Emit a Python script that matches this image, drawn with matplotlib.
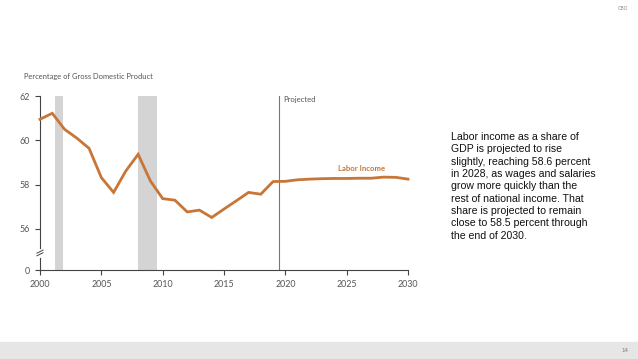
import matplotlib.pyplot as plt
import numpy as np

# labor income as share of GDP
years = list(range(2000, 2031))
labor_share = [60.95, 61.22, 60.5, 60.1, 59.64, 58.32, 57.65, 58.62, 59.37, 58.17,
               57.37, 57.3, 56.77, 56.85, 56.52, 56.9, 57.27, 57.65, 57.57, 58.14,
               58.15, 58.22, 58.25, 58.27, 58.28, 58.28, 58.29, 58.29, 58.34, 58.33,
               58.25]
recessions = [(2001.2, 2001.9), (2007.95, 2009.5)]
projected_start = 2019.5
ytick_vals = [62, 60, 58, 56]
xtick_vals = [2000, 2005, 2010, 2015, 2020, 2025, 2030]

# the axis is broken between 56 and 0; 0 sits a bit below 56
zero_pos = 54.15
orange = '#c87637'
grey_txt = '#555555'

fig = plt.figure(figsize=(6.38, 3.59), dpi=100)
ax = fig.add_axes([40/638, 89/359, 368/638, 174/359])

for a, b in recessions:
    ax.axvspan(a, b, color='#d4d4d4', lw=0, zorder=0)

ax.axvline(projected_start, color='#777777', lw=0.8, zorder=1)
ax.text(projected_start + 0.35, 61.85, 'Projected', fontsize=5.5, color=grey_txt,
        va='center', ha='left', family='Lato')

ax.plot(years, labor_share, color=orange, lw=2.0, solid_joinstyle='miter', zorder=3,
        clip_on=False)
ax.text(2026.2, 58.74, 'Labor Income', color=orange, fontsize=5.6, ha='center',
        va='center', fontweight='bold', family='Lato')

ax.set_xlim(2000, 2030)
ax.set_ylim(zero_pos, 62)
ax.set_yticks(ytick_vals + [zero_pos])
ax.set_yticklabels([str(v) for v in ytick_vals] + ['0'])
ax.set_xticks(xtick_vals)

for s in ['top', 'right']:
    ax.spines[s].set_visible(False)
for s in ['left', 'bottom']:
    ax.spines[s].set_color('#444444')
    ax.spines[s].set_linewidth(0.8)
ax.tick_params(direction='out', length=3.5, width=0.8, color='#444444',
               labelsize=6.4, labelcolor=grey_txt, pad=4)
for lab in ax.get_xticklabels() + ax.get_yticklabels():
    lab.set_family('Lato')

# axis break mark
by = 54.92
ax.plot([2000, 2000], [by - 0.12, by + 0.12], color='white', lw=2, zorder=5, clip_on=False)
for off in (-0.06, 0.06):
    ax.plot([1999.75, 2000.25], [by + off - 0.07, by + off + 0.07], color='#444444',
            lw=0.7, zorder=6, clip_on=False)

fig.text(24/638, 1 - 76/359, 'Percentage of Gross Domestic Product', fontsize=5.4,
         color=grey_txt, va='center', ha='left', family='Lato')

note = ('Labor income as a share of\nGDP is projected to rise\n'
        'slightly, reaching 58.6 percent\nin 2028, as wages and salaries\n'
        'grow more quickly than the\nrest of national income. That\n'
        'share is projected to remain\nclose to 58.5 percent through\n'
        'the end of 2030.')
fig.text(451/638, 1 - 132/359, note, fontsize=7.6, color='#111111', va='top',
         ha='left', family='Liberation Sans', linespacing=1.29)

fig.text(628/638, 1 - 9/359, 'CBO', fontsize=3.5, color='#888888', ha='right', va='center')
fig.patches.append(plt.Rectangle((0, 0), 1, 17/359, transform=fig.transFigure,
                                 color='#e6e6e6', zorder=0))
fig.text(628/638, 1 - 350/359, '14', fontsize=4, color='#777777', ha='right', va='center')

plt.savefig('out.png', dpi=100)
